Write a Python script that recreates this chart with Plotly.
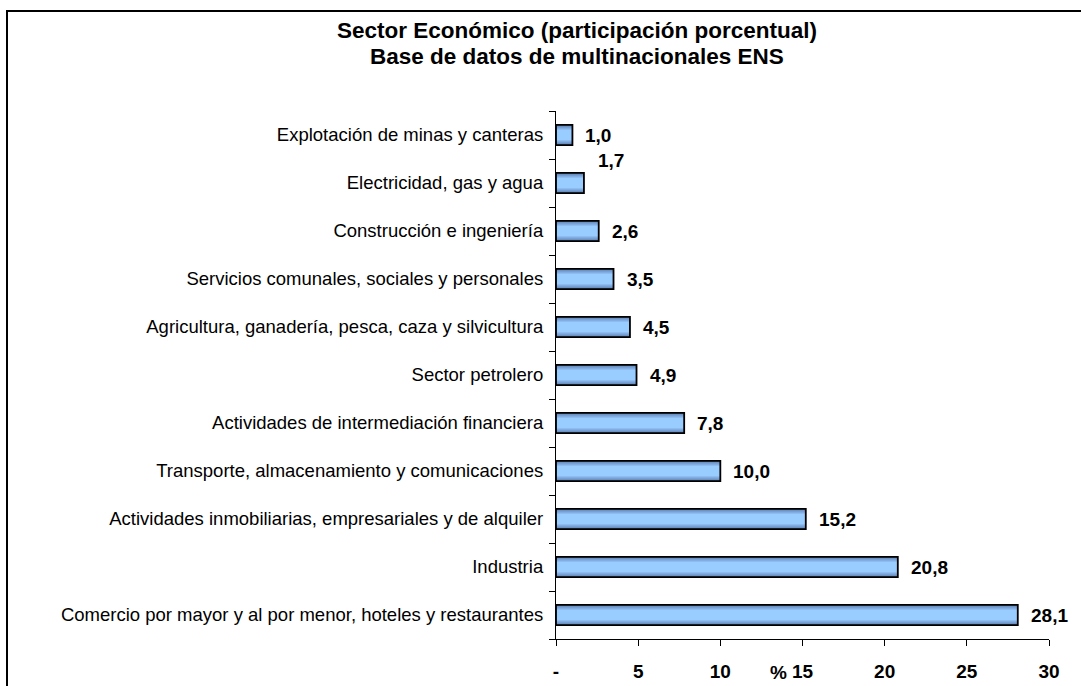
import plotly.graph_objects as go

categories = [
    "Explotación de minas y canteras",
    "Electricidad, gas y agua",
    "Construcción e ingeniería",
    "Servicios comunales, sociales y personales",
    "Agricultura, ganadería, pesca, caza y silvicultura",
    "Sector petrolero",
    "Actividades de intermediación financiera",
    "Transporte, almacenamiento y comunicaciones",
    "Actividades inmobiliarias, empresariales y de alquiler",
    "Industria",
    "Comercio por mayor y al por menor, hoteles y restaurantes",
]
values = [1.0, 1.7, 2.6, 3.5, 4.5, 4.9, 7.8, 10.0, 15.2, 20.8, 28.1]
labels = ["1,0", "1,7", "2,6", "3,5", "4,5", "4,9", "7,8", "10,0", "15,2", "20,8", "28,1"]
tick_vals = [0, 5, 10, 15, 20, 25, 30]
tick_text = ["-", "5", "10", "15", "20", "25", "30"]
title_lines = ["Sector Económico (participación porcentual)", "Base de datos de multinacionales ENS"]

FONT = "Liberation Sans, Arial, sans-serif"
L, R, T, B = 556, 1049, 111, 639
W, H = 1081, 686

def px2paper_x(px):
    return (px - L) / (R - L)

def px2paper_y(py):
    return (B - py) / (B - T)

fig = go.Figure()

# gradient simulation: layered bars
grad = [(0.42, "#587aab"), (0.37, "#6c93c8"), (0.31, "#82ade2"), (0.23, "#99ccff")]
for w, c in grad:
    fig.add_trace(go.Bar(x=values, y=categories, orientation="h", width=w,
                         marker=dict(color=c, line=dict(width=0)),
                         hoverinfo="skip", showlegend=False))
fig.add_trace(go.Bar(x=values, y=categories, orientation="h", width=0.42,
                     marker=dict(color="rgba(0,0,0,0)", line=dict(color="black", width=1.8)),
                     showlegend=False))

annotations = []
for cat, v, lab in zip(categories, values, labels):
    xs, ys = 11, 0
    if lab == "1,7":
        xs, ys = 12, 23
    annotations.append(dict(x=v, y=cat, xref="x", yref="y", text=lab, showarrow=False,
                            xanchor="left", yanchor="middle", xshift=xs, yshift=ys,
                            font=dict(family=FONT, size=19, color="black", weight="bold")))

annotations.append(dict(x=15, y=px2paper_y(672), xref="x", yref="paper", text="%", showarrow=False,
                        xanchor="right", yanchor="middle", xshift=-14,
                        font=dict(family=FONT, size=19, color="black", weight="bold")))
for line, py in zip(title_lines, [30, 57]):
    annotations.append(dict(x=px2paper_x(577), y=px2paper_y(py), xref="paper", yref="paper",
                            text=line, showarrow=False, xanchor="center", yanchor="middle",
                            font=dict(family=FONT, size=22.5, color="black", weight="bold")))

fig.update_layout(
    template="none",
    width=W, height=H,
    margin=dict(l=L, r=W - R, t=T, b=H - B, pad=0, autoexpand=False),
    paper_bgcolor="white", plot_bgcolor="white",
    barmode="overlay",
    annotations=annotations,
    font=dict(family=FONT, color="black"),
    shapes=[dict(type="rect", xref="paper", yref="paper",
                 x0=px2paper_x(7), x1=px2paper_x(1095), y0=px2paper_y(700), y1=px2paper_y(11),
                 line=dict(color="black", width=2), fillcolor="rgba(0,0,0,0)", layer="below")],
    xaxis=dict(range=[0, 30], tickvals=tick_vals, ticktext=tick_text, showgrid=False,
               zeroline=False, showline=True, linecolor="black", linewidth=1.2,
               ticks="outside", ticklen=6, tickcolor="black", automargin=False,
               ticklabelstandoff=9,
               tickfont=dict(family=FONT, size=19, color="black", weight="bold")),
    yaxis=dict(categoryorder="array", categoryarray=categories[::-1],
               range=[-0.5, len(categories) - 0.5], automargin=False,
               tickson="boundaries", ticks="outside", ticklen=6, tickcolor="black",
               showline=True, linecolor="black", linewidth=1.2, showgrid=False,
               zeroline=False, ticklabelstandoff=8,
               tickfont=dict(family=FONT, size=18.5, color="black")),
)

fig.write_html("out.html", config={"displayModeBar": False},
               post_script="document.body.style.margin='0px';document.body.style.overflow='hidden';")
